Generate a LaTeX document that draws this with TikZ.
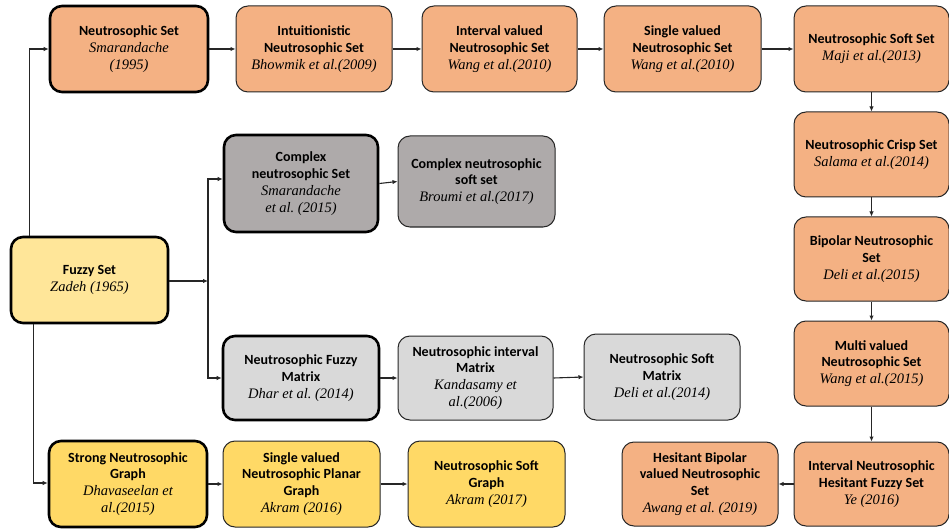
\documentclass[tikz,border=0pt]{standalone}
\usepackage{fontspec}
\setmainfont{Liberation Serif}
\newfontfamily\titlefamily{Carlito}
\usetikzlibrary{arrows.meta,calc}
\definecolor{orangebox}{HTML}{F4B183}
\definecolor{fuzzybox}{HTML}{FFE699}
\definecolor{greydark}{HTML}{AEAAAA}
\definecolor{greylight}{HTML}{D9D9D9}
\definecolor{yellowbox}{HTML}{FFD966}
\newcommand\boxtitle[1]{{\titlefamily\bfseries #1}}
\newcommand\boxauth[1]{{\fontsize{14.5}{16.8}\selectfont\itshape #1}}
\begin{document}
\begin{tikzpicture}[x=1pt,y=-1pt,
  box/.style={draw=black!85,line width=1pt,rounded corners=12pt,align=center,inner sep=0pt,
    font=\fontsize{14}{16.8}\selectfont},
  thickbox/.style={box,draw=black,line width=2.6pt},
  arr/.style={draw=black!85,line width=1.1pt,-{Latex[length=5pt,width=4.5pt]}}]
\useasboundingbox (0,0) rectangle (949,529);
% top row
\node[thickbox,fill=orangebox,minimum width=158pt,minimum height=86pt] (NS) at (129,49)
  {\boxtitle{Neutrosophic Set}\\\boxauth{Smarandache}\\\boxauth{(1995)}};
\node[box,fill=orangebox,minimum width=156pt,minimum height=86pt] (INS) at (314,49)
  {\boxtitle{Intuitionistic}\\\boxtitle{Neutrosophic Set}\\\boxauth{Bhowmik et al.(2009)}};
\node[box,fill=orangebox,minimum width=155pt,minimum height=86pt] (IVNS) at (499.5,49)
  {\boxtitle{Interval valued}\\\boxtitle{Neutrosophic Set}\\\boxauth{Wang et al.(2010)}};
\node[box,fill=orangebox,minimum width=157pt,minimum height=86pt] (SVNS) at (682.5,49)
  {\boxtitle{Single valued}\\\boxtitle{Neutrosophic Set}\\\boxauth{Wang et al.(2010)}};
\node[box,fill=orangebox,minimum width=155pt,minimum height=86pt] (NSS) at (871.5,49)
  {\boxtitle{Neutrosophic Soft Set}\\\boxauth{Maji et al.(2013)}};
% right column
\node[box,fill=orangebox,minimum width=155pt,minimum height=85pt] (NCS) at (871.5,154.5)
  {\boxtitle{Neutrosophic Crisp Set}\\\boxauth{Salama et al.(2014)}};
\node[box,fill=orangebox,minimum width=155pt,minimum height=84pt] (BNS) at (871.5,259)
  {\boxtitle{Bipolar Neutrosophic}\\\boxtitle{Set}\\\boxauth{Deli et al.(2015)}};
\node[box,fill=orangebox,minimum width=155pt,minimum height=85pt] (MVNS) at (871.5,363.5)
  {\boxtitle{Multi valued}\\\boxtitle{Neutrosophic Set}\\\boxauth{Wang et al.(2015)}};
\node[box,fill=orangebox,minimum width=155pt,minimum height=84pt] (INHFS) at (871.5,484)
  {\boxtitle{Interval Neutrosophic}\\\boxtitle{Hesitant Fuzzy Set}\\\boxauth{Ye (2016)}};
\node[box,fill=orangebox,minimum width=156pt,minimum height=84pt] (HBV) at (700,484)
  {\boxtitle{Hesitant Bipolar}\\\boxtitle{valued Neutrosophic}\\\boxtitle{Set}\\\boxauth{Awang et al.\ (2019)}};
% fuzzy
\node[thickbox,fill=fuzzybox,minimum width=157pt,minimum height=86pt] (FS) at (89.5,280)
  {\boxtitle{Fuzzy Set}\\\boxauth{Zadeh (1965)}};
% grey
\node[thickbox,fill=greydark,minimum width=154pt,minimum height=97pt] (CNS) at (301,183.5)
  {\boxtitle{Complex}\\\boxtitle{neutrosophic Set}\\\boxauth{Smarandache}\\\boxauth{et al.\ (2015)}};
\node[box,fill=greydark,minimum width=157pt,minimum height=91pt] (CNSS) at (476.5,181.5)
  {\boxtitle{Complex neutrosophic}\\\boxtitle{soft set}\\\boxauth{Broumi et al.(2017)}};
\node[thickbox,fill=greylight,minimum width=156pt,minimum height=84pt] (NFM) at (301,378)
  {\boxtitle{Neutrosophic Fuzzy}\\\boxtitle{Matrix}\\\boxauth{Dhar et al.\ (2014)}};
\node[box,fill=greylight,minimum width=155pt,minimum height=84pt] (NIM) at (475.5,378)
  {\boxtitle{Neutrosophic interval}\\\boxtitle{Matrix}\\\boxauth{Kandasamy et}\\\boxauth{al.(2006)}};
\node[box,fill=greylight,minimum width=156pt,minimum height=86pt] (NSM) at (662,377)
  {\boxtitle{Neutrosophic Soft}\\\boxtitle{Matrix}\\\boxauth{Deli et al.(2014)}};
% bottom row
\node[thickbox,fill=yellowbox,minimum width=158pt,minimum height=86pt] (SNG) at (128,484)
  {\boxtitle{Strong Neutrosophic}\\\boxtitle{Graph}\\\boxauth{Dhavaseelan et}\\\boxauth{al.(2015)}};
\node[box,fill=yellowbox,minimum width=157pt,minimum height=86pt] (SVNPG) at (301.5,484)
  {\boxtitle{Single valued}\\\boxtitle{Neutrosophic Planar}\\\boxtitle{Graph}\\\boxauth{Akram (2016)}};
\node[box,fill=yellowbox,minimum width=157pt,minimum height=86pt] (NSG) at (486.5,484)
  {\boxtitle{Neutrosophic Soft}\\\boxtitle{Graph}\\\boxauth{Akram (2017)}};
% connectors
\coordinate (J) at (208,281);
\draw[arr] ($(FS.north west)+(20,0)$) |- (NS.west);
\draw[arr] ($(FS.south west)+(24,0)$) |- ($(SNG.west)+(0,-1)$);
\draw[arr] (FS.east |- J) -- (J);
\draw[arr] (J) |- ($(CNS.west)+(0,-4.5)$);
\draw[arr] (J) |- (NFM.west);
\draw[arr] (CNS.east) -- (CNSS.west);
\draw[arr] (NFM.east) -- (NIM.west);
\draw[arr] (NIM.east) -- (NSM.west);
\draw[arr] (NS) -- (INS);
\draw[arr] (INS) -- (IVNS);
\draw[arr] (IVNS) -- (SVNS);
\draw[arr] (SVNS) -- (NSS);
\draw[arr] (NSS) -- (NCS);
\draw[arr] (NCS) -- (BNS);
\draw[arr] (BNS) -- (MVNS);
\draw[arr] (MVNS) -- (INHFS);
\draw[arr] (INHFS) -- (HBV);
\draw[arr] (SNG) -- (SVNPG);
\draw[arr] (SVNPG) -- (NSG);
\end{tikzpicture}
\end{document}
